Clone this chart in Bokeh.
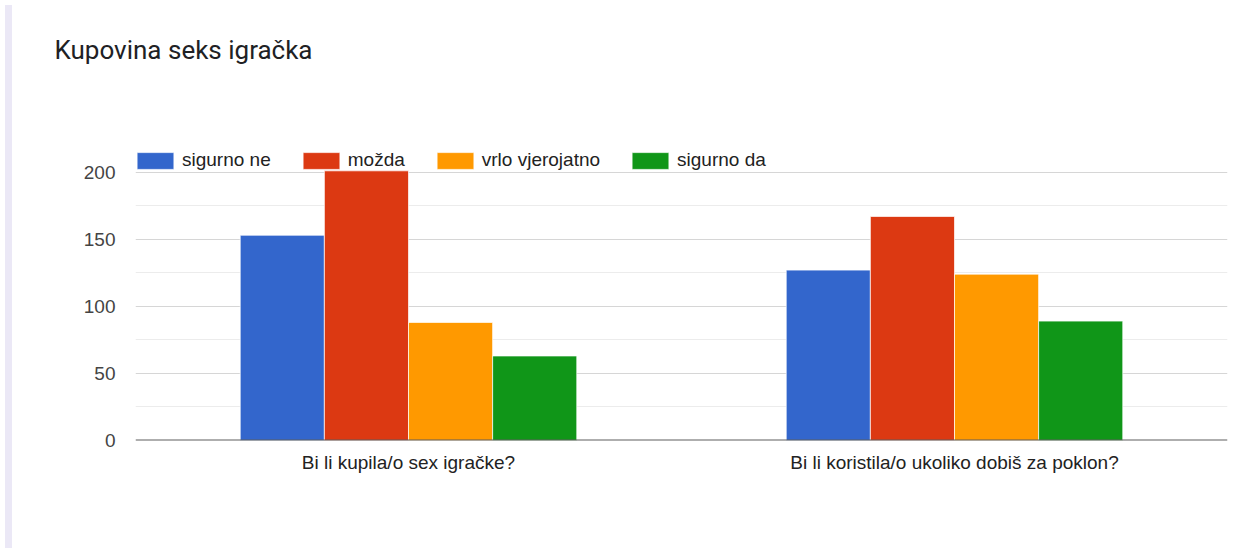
from bokeh.plotting import figure
from bokeh.models import (FactorRange, Range1d, FixedTicker, Legend, LegendItem,
                          Span, Div, ColumnDataSource)
from bokeh.transform import dodge
from bokeh.layouts import row
from bokeh.embed import file_html
from bokeh.resources import INLINE

# ---- data ----
categories = ["Bi li kupila/o sex igračke?", "Bi li koristila/o ukoliko dobiš za poklon?"]
series = ["sigurno ne", "možda", "vrlo vjerojatno", "sigurno da"]
sigurno_ne = [153, 127]
mozda = [201, 167]
vrlo_vjerojatno = [88, 124]
sigurno_da = [63, 89]
y_ticks = [0, 50, 100, 150, 200]
y_minor = [25, 75, 125, 175]

colors = ["#3366cc", "#dc3912", "#ff9900", "#109618"]

src = ColumnDataSource(dict(cat=categories, s0=sigurno_ne, s1=mozda,
                            s2=vrlo_vjerojatno, s3=sigurno_da))

p = figure(x_range=FactorRange(*categories, range_padding=0),
           y_range=Range1d(0, 274.3),
           width=1221, height=551,
           output_backend="svg", toolbar_location=None,
           min_border_left=118, min_border_right=11,
           min_border_top=72, min_border_bottom=111,
           title="Kupovina seks igračka")
p.outline_line_color = None
p.background_fill_color = "white"
p.border_fill_color = "white"

p.title.text_font = "Roboto"
p.title.text_font_size = "26px"
p.title.text_font_style = "normal"
p.title.text_color = "#202124"
p.title.align = "left"
p.title.offset = -81
p.title.standoff = 16

bar_w = 0.1541
offsets = [-1.5 * bar_w, -0.5 * bar_w, 0.5 * bar_w, 1.5 * bar_w]
items = []
for i, (name, col) in enumerate(zip(series, colors)):
    r = p.vbar(x=dodge("cat", offsets[i], range=p.x_range), top=f"s{i}",
               width=bar_w, source=src, fill_color=col,
               line_color="white", line_width=1, line_alpha=0.7)
    items.append(LegendItem(label=name, renderers=[r]))

# grid
p.xgrid.grid_line_color = None
p.yaxis.ticker = FixedTicker(ticks=y_ticks, minor_ticks=y_minor)
p.ygrid.grid_line_color = "#d6d6d6"
p.ygrid.grid_line_width = 1.2
p.ygrid.minor_grid_line_color = "#ececec"
p.ygrid.minor_grid_line_width = 1.2
p.ygrid.level = "underlay"

baseline = Span(location=0, dimension="width", line_color="#5f5f5f", line_width=2)
p.add_layout(baseline)

# axes
p.yaxis.axis_line_color = None
p.yaxis.major_tick_line_color = None
p.yaxis.minor_tick_line_color = None
p.yaxis.major_tick_out = 0
p.yaxis.major_tick_in = 0
p.yaxis.minor_tick_out = 0
p.yaxis.major_label_standoff = 20
p.yaxis.major_label_text_font = "Liberation Sans"
p.yaxis.major_label_text_font_size = "19px"
p.yaxis.major_label_text_color = "#444444"

p.xaxis.axis_line_color = None
p.xaxis.major_tick_line_color = None
p.xaxis.major_tick_out = 0
p.xaxis.major_tick_in = 0
p.xaxis.major_label_standoff = 11
p.xaxis.major_label_text_font = "Liberation Sans"
p.xaxis.major_label_text_font_size = "19px"
p.xaxis.major_label_text_color = "#222222"

# legend
legend = Legend(items=items, orientation="horizontal", location=(-3, 269),
                glyph_width=46, glyph_height=21, label_standoff=4, spacing=27,
                padding=0, margin=0, border_line_color=None,
                background_fill_alpha=0,
                label_text_font="Liberation Sans", label_text_font_size="19px",
                label_text_color="#222222")
p.add_layout(legend, "center")

strip = Div(width=7, height=543, styles={"background-color": "#ebe8f6"})
layout = row(strip, p, spacing=0)

open("out.html", "w").write(file_html(layout, INLINE))
